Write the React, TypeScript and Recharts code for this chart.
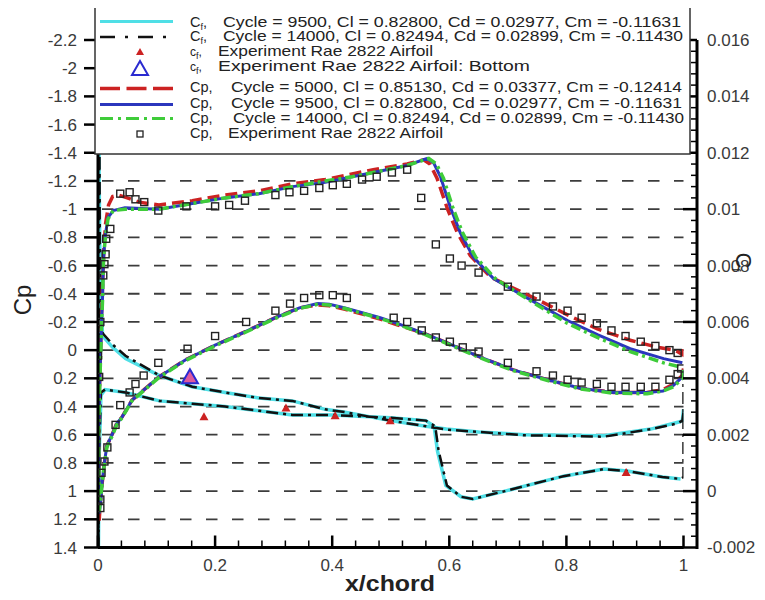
import React from "react";
import { ComposedChart, Line, Scatter, XAxis, YAxis, CartesianGrid } from "recharts";

type Pt = [number, number];

// ---------- axis ticks ----------
const cpTicks = [-2.2, -2, -1.8, -1.6, -1.4, -1.2, -1, -0.8, -0.6, -0.4, -0.2, 0, 0.2, 0.4, 0.6, 0.8, 1, 1.2, 1.4];
const xMajorTicks = [0, 0.2, 0.4, 0.6, 0.8, 1];
const cfMajorTicks = [-0.002, 0, 0.002, 0.004, 0.006, 0.008, 0.01, 0.012, 0.014, 0.016];
const xMinorStep = 0.04;
const cfMinorStep = 0.0004;

// ---------- legend labels ----------
const legendPrefix = ["C|f|,", "C|f|,", "c|f|,", "c|f|,", "Cp,", "Cp,", "Cp,", "Cp,"];
const legendText = [
  "Cycle = 9500, Cl = 0.82800, Cd = 0.02977, Cm = -0.11631",
  "Cycle = 14000, Cl = 0.82494, Cd = 0.02899, Cm = -0.11430",
  "Experiment Rae 2822 Airfoil",
  "Experiment Rae 2822 Airfoil: Bottom",
  "Cycle = 5000, Cl = 0.85130, Cd = 0.03377, Cm = -0.12414",
  "Cycle = 9500, Cl = 0.82800, Cd = 0.02977, Cm = -0.11631",
  "Cycle = 14000, Cl = 0.82494, Cd = 0.02899, Cm = -0.11430",
  "Experiment Rae 2822 Airfoil",
];

// ---------- Cf series (lower TE -> LE -> upper TE) ----------
const cfCycle9500: Pt[] = [
  [1.0, 0.0029], [0.998, 0.0025], [0.992, 0.00245], [0.944, 0.0022], [0.864, 0.00196], [0.729, 0.002],
  [0.65, 0.0021], [0.595, 0.0022], [0.56, 0.0023], [0.5, 0.0025], [0.422, 0.0028], [0.388, 0.0029],
  [0.332, 0.0032], [0.275, 0.0033], [0.217, 0.0035], [0.161, 0.0037], [0.105, 0.0041], [0.047, 0.0047],
  [0.025, 0.0051], [0.008, 0.0055], [0.004, 0.0068], [0.002, 0.011], [0.001, 0.015], [0.0, -0.004],
  [0.002, 0.0012], [0.005, 0.0034], [0.012, 0.0036], [0.047, 0.0035], [0.105, 0.0032], [0.161, 0.0031],
  [0.217, 0.003], [0.275, 0.00285], [0.332, 0.0027], [0.4, 0.0027], [0.5, 0.0026], [0.56, 0.0025],
  [0.574, 0.0023], [0.58, 0.0014], [0.594, 0.0002], [0.62, -0.0002], [0.64, -0.00028], [0.695, 0.0],
  [0.795, 0.00053], [0.864, 0.00078], [0.904, 0.00071], [0.964, 0.0005], [0.995, 0.00043],
];
const cfCycle14000: Pt[] = [
  [1.0, 0.0028], [0.998, 0.0025], [0.99, 0.0024], [0.944, 0.0022], [0.864, 0.00193], [0.729, 0.00198],
  [0.65, 0.0021], [0.595, 0.00218], [0.56, 0.0023], [0.5, 0.0025], [0.422, 0.0028], [0.388, 0.0029],
  [0.332, 0.0032], [0.275, 0.0033], [0.217, 0.0035], [0.161, 0.0037], [0.105, 0.0041], [0.047, 0.0048],
  [0.025, 0.0052], [0.008, 0.0056], [0.004, 0.007], [0.003, 0.0095], [0.0025, 0.0125], [0.0, -0.004],
  [0.002, 0.0014], [0.005, 0.0035], [0.012, 0.0036], [0.047, 0.0035], [0.105, 0.0032], [0.161, 0.0031],
  [0.217, 0.003], [0.275, 0.00285], [0.332, 0.0027], [0.4, 0.0027], [0.5, 0.0026], [0.56, 0.0025],
  [0.576, 0.0023], [0.582, 0.0014], [0.596, 0.0002], [0.62, -0.0002], [0.64, -0.00028], [0.695, 0.0],
  [0.795, 0.00053], [0.864, 0.00078], [0.904, 0.00071], [0.964, 0.0005], [0.995, 0.00043], [1.0, 0.0005],
  [1.0, 0.0042],
];
const cfExperiment: Pt[] = [[0.181, 0.00264], [0.321, 0.00295], [0.405, 0.00267], [0.499, 0.0025], [0.902, 0.00066]];
const cfExperimentBottom: Pt[] = [[0.157, 0.00404]];

// ---------- Cp series (lower TE -> LE -> upper TE) ----------
const cpCycle5000: Pt[] = [
  [1.0, 0.13], [0.998, 0.18], [0.983, 0.24], [0.965, 0.28], [0.938, 0.3], [0.88, 0.3], [0.824, 0.27],
  [0.768, 0.21], [0.709, 0.14], [0.653, 0.05], [0.597, -0.05], [0.556, -0.12], [0.511, -0.18], [0.482, -0.22],
  [0.422, -0.29], [0.395, -0.315], [0.375, -0.32], [0.344, -0.3], [0.303, -0.23], [0.251, -0.13], [0.2, -0.035],
  [0.149, 0.07], [0.104, 0.19], [0.058, 0.355], [0.041, 0.475], [0.032, 0.52], [0.024, 0.6], [0.015, 0.68],
  [0.01, 0.83], [0.007, 0.95], [0.004, 1.08], [0.002, 1.21],
  [0.001, 0.6], [0.003, 0.2], [0.006, -0.25], [0.008, -0.5], [0.01, -0.72], [0.013, -0.9], [0.018, -1.03],
  [0.025, -1.09], [0.035, -1.1], [0.05, -1.08], [0.07, -1.05], [0.104, -1.03], [0.161, -1.06], [0.217, -1.1],
  [0.275, -1.13], [0.332, -1.18], [0.388, -1.21], [0.434, -1.25], [0.47, -1.28], [0.528, -1.32], [0.556, -1.35],
  [0.567, -1.32], [0.579, -1.22], [0.597, -1.0], [0.614, -0.83], [0.636, -0.67], [0.67, -0.52], [0.699, -0.46],
  [0.75, -0.36], [0.802, -0.25], [0.853, -0.15], [0.909, -0.07], [0.956, -0.02], [0.985, 0.0], [0.998, 0.03],
  [1.0, -0.05],
];
const cpCycle9500: Pt[] = [
  [1.0, 0.14], [0.998, 0.19], [0.983, 0.25], [0.965, 0.29], [0.938, 0.3], [0.88, 0.3], [0.824, 0.27],
  [0.768, 0.21], [0.709, 0.14], [0.653, 0.05], [0.597, -0.05], [0.556, -0.12], [0.511, -0.19], [0.482, -0.23],
  [0.422, -0.3], [0.395, -0.325], [0.375, -0.33], [0.344, -0.3], [0.303, -0.23], [0.251, -0.13], [0.2, -0.035],
  [0.149, 0.07], [0.104, 0.19], [0.058, 0.355], [0.041, 0.475], [0.032, 0.52], [0.024, 0.6], [0.015, 0.68],
  [0.01, 0.83], [0.007, 0.94], [0.005, 1.06], [0.002, 1.16],
  [0.001, 0.6], [0.003, 0.23], [0.006, -0.19], [0.008, -0.4], [0.009, -0.62], [0.012, -0.8], [0.017, -0.94],
  [0.026, -0.99], [0.046, -1.01], [0.104, -1.0], [0.161, -1.04], [0.217, -1.08], [0.275, -1.11], [0.332, -1.16],
  [0.388, -1.19], [0.434, -1.23], [0.47, -1.26], [0.528, -1.31], [0.562, -1.36], [0.573, -1.33], [0.585, -1.23],
  [0.602, -1.01], [0.619, -0.83], [0.641, -0.66], [0.675, -0.51], [0.699, -0.45], [0.75, -0.33], [0.802, -0.21],
  [0.853, -0.11], [0.909, -0.01], [0.966, 0.06], [0.998, 0.09],
];
const cpCycle14000: Pt[] = [
  [1.0, 0.14], [0.998, 0.2], [0.983, 0.26], [0.965, 0.29], [0.938, 0.31], [0.88, 0.305], [0.824, 0.275],
  [0.768, 0.215], [0.709, 0.145], [0.653, 0.055], [0.597, -0.045], [0.556, -0.115], [0.511, -0.185],
  [0.482, -0.225], [0.422, -0.295], [0.395, -0.32], [0.375, -0.325], [0.344, -0.295], [0.303, -0.225],
  [0.251, -0.125], [0.2, -0.03], [0.149, 0.075], [0.104, 0.195], [0.058, 0.36], [0.041, 0.48], [0.032, 0.53],
  [0.024, 0.61], [0.015, 0.69], [0.01, 0.84], [0.007, 0.95], [0.004, 1.07], [0.002, 1.15],
  [0.001, 0.6], [0.003, 0.25], [0.006, -0.17], [0.008, -0.38], [0.009, -0.6], [0.012, -0.78], [0.017, -0.93],
  [0.026, -0.99], [0.046, -1.0], [0.104, -1.0], [0.161, -1.04], [0.217, -1.08], [0.275, -1.11], [0.332, -1.16],
  [0.388, -1.2], [0.434, -1.23], [0.47, -1.26], [0.528, -1.31], [0.565, -1.36], [0.578, -1.32], [0.59, -1.22],
  [0.606, -1.01], [0.623, -0.83], [0.645, -0.66], [0.678, -0.51], [0.7, -0.45], [0.75, -0.32], [0.802, -0.19],
  [0.853, -0.09], [0.909, 0.01], [0.966, 0.09], [0.995, 0.12],
];
const cpExperiment: Pt[] = [
  // upper surface
  [0.004, -0.2], [0.009, -0.53], [0.011, -0.61], [0.013, -0.68], [0.014, -0.79], [0.021, -0.86],
  [0.038, -1.11], [0.054, -1.12], [0.064, -1.07], [0.079, -1.05], [0.103, -0.99], [0.151, -1.02],
  [0.2, -1.02], [0.224, -1.03], [0.251, -1.06], [0.303, -1.1], [0.327, -1.12], [0.352, -1.13],
  [0.378, -1.15], [0.401, -1.17], [0.425, -1.18], [0.451, -1.21], [0.476, -1.23], [0.502, -1.26],
  [0.528, -1.28], [0.552, -1.08], [0.577, -0.75], [0.601, -0.65], [0.621, -0.6], [0.65, -0.55],
  [0.7, -0.45], [0.749, -0.38], [0.777, -0.31], [0.802, -0.28], [0.826, -0.23], [0.852, -0.19],
  [0.877, -0.14], [0.901, -0.1], [0.927, -0.06], [0.952, -0.03], [0.976, 0.0], [0.99, 0.02],
  // lower surface
  [0.0, 0.04], [0.002, 0.19], [0.004, 1.06], [0.004, 1.12], [0.006, 0.87], [0.011, 0.79], [0.016, 0.69],
  [0.03, 0.53], [0.038, 0.39], [0.054, 0.3], [0.064, 0.24], [0.078, 0.18], [0.103, 0.09], [0.153, -0.01],
  [0.2, -0.1], [0.253, -0.2], [0.303, -0.28], [0.328, -0.33], [0.352, -0.37], [0.378, -0.39], [0.401, -0.39],
  [0.425, -0.37], [0.505, -0.23], [0.528, -0.2], [0.553, -0.14], [0.577, -0.09], [0.601, -0.06],
  [0.623, -0.02], [0.65, 0.01], [0.7, 0.09], [0.749, 0.15], [0.777, 0.18], [0.802, 0.21], [0.826, 0.23],
  [0.852, 0.24], [0.877, 0.26], [0.901, 0.26], [0.927, 0.26], [0.952, 0.26], [0.976, 0.21], [0.99, 0.17],
  [0.996, 0.13],
];

// ---------- styling ----------
const FONT = "'Liberation Sans', Arial, Helvetica, sans-serif";
const C_CYAN = "#4fdfe6";
const C_BLACK = "#111111";
const C_RED = "#cc2222";
const C_BLUE = "#2b36bd";
const C_GREEN = "#3fcc3a";
const TICK_COLOR = "#3a3a3a";
const TICK_FONT = 17;
const CHART_W = 749;
const CHART_H = 584;
const MARGIN = { top: 32, right: 13.5, bottom: 14.5, left: 30 };
const X_AXIS_H = 30;
const PLOT_H = CHART_H - MARGIN.top - MARGIN.bottom - X_AXIS_H;
const RIGHT_AXIS_OFFSET = 13.5;

const toPts = (arr: Pt[]) => arr.map(([x, y]) => ({ x, y }));

const xTickValues: number[] = [];
for (let i = 0; i <= Math.round(1 / xMinorStep); i++) xTickValues.push(Math.round(i * xMinorStep * 1e6) / 1e6);
const cfTickValues: number[] = [];
for (let i = 0; i <= Math.round(0.018 / cfMinorStep); i++) cfTickValues.push(Math.round((-0.002 + i * cfMinorStep) * 1e7) / 1e7);

const XTick = (props: any) => {
  const { x, y, payload } = props;
  const major = xMajorTicks.find((m) => Math.abs(m - payload.value) < 1e-6);
  const isMajor = major !== undefined;
  return (
    <g>
      <line x1={x} x2={x} y1={y} y2={y - (isMajor ? 12 : 7)} stroke="#000" strokeWidth={isMajor ? 2.5 : 1.5} />
      {isMajor && (
        <text x={x} y={y + 23} textAnchor="middle" fontFamily={FONT} fontSize={TICK_FONT} fill={TICK_COLOR}>
          {String(major)}
        </text>
      )}
    </g>
  );
};

const CfTick = (props: any) => {
  const { x, y, payload, index } = props;
  const ax = x + RIGHT_AXIS_OFFSET;
  const major = cfMajorTicks.find((m) => Math.abs(m - payload.value) < 1e-7);
  const isMajor = major !== undefined;
  return (
    <g>
      {index === 0 && <line x1={ax} x2={ax} y1={y + 1.5} y2={y - PLOT_H} stroke="#000" strokeWidth={3} />}
      <line x1={ax} x2={ax - (isMajor ? 14 : 6)} y1={y} y2={y} stroke="#000" strokeWidth={isMajor ? 2.5 : 1.5} />
      {isMajor && (
        <text x={ax + 10} y={y} dy="0.35em" textAnchor="start" fontFamily={FONT} fontSize={TICK_FONT} fill={TICK_COLOR}>
          {String(major)}
        </text>
      )}
    </g>
  );
};

const SquareShape = (p: any) => (
  <rect x={p.cx - 3.5} y={p.cy - 3.5} width={7} height={7} fill="none" stroke="#222" strokeWidth={1.4} />
);
const RedTriangle = (p: any) => (
  <polygon points={`${p.cx},${p.cy - 4.5} ${p.cx + 4.5},${p.cy + 3.5} ${p.cx - 4.5},${p.cy + 3.5}`} fill={C_RED} />
);
const BlueTriangle = (p: any) => (
  <polygon
    points={`${p.cx},${p.cy - 8} ${p.cx + 8},${p.cy + 6} ${p.cx - 8},${p.cy + 6}`}
    fill="#de5a9e"
    stroke="#2a2ad0"
    strokeWidth={2}
  />
);

const legendRowTextY = [26.5, 41, 56, 70.5, 92, 107.5, 122.5, 138];
const legendRowSymY = [21.5, 37, 52, 69, 88.5, 104.5, 118.5, 134];
const legendTextX = [223, 223, 218, 218, 231, 231, 233, 228];
const legendTextLen = [458, 460, 215, 312, 451, 451, 451, 215];

const LegendSymbol = ({ i, y }: { i: number; y: number }) => {
  const x1 = 100;
  const x2 = 173;
  const xm = 140;
  switch (i) {
    case 0:
      return <line x1={x1} x2={x2} y1={y} y2={y} stroke={C_CYAN} strokeWidth={3} />;
    case 1:
      return <line x1={x1} x2={x2} y1={y} y2={y} stroke={C_BLACK} strokeWidth={2.5} strokeDasharray="15 10 3 10" />;
    case 2:
      return <polygon points={`${xm},${y - 4} ${xm + 4},${y + 3} ${xm - 4},${y + 3}`} fill={C_RED} />;
    case 3:
      return (
        <polygon points={`${xm},${y - 8} ${xm + 8},${y + 6} ${xm - 8},${y + 6}`} fill="none" stroke="#2a2ad0" strokeWidth={2} />
      );
    case 4:
      return <line x1={x1} x2={x2} y1={y} y2={y} stroke={C_RED} strokeWidth={3.5} strokeDasharray="20 6.5" />;
    case 5:
      return <line x1={x1} x2={x2} y1={y} y2={y} stroke={C_BLUE} strokeWidth={3} />;
    case 6:
      return <line x1={x1} x2={x2} y1={y} y2={y} stroke={C_GREEN} strokeWidth={3} strokeDasharray="13 5 3 5" />;
    default:
      return <rect x={xm - 3} y={y - 3} width={6} height={6} fill="none" stroke="#222" strokeWidth={1.3} />;
  }
};

const LegendPrefix = ({ s, y }: { s: string; y: number }) => {
  const parts = s.split("|");
  if (parts.length === 3) {
    return (
      <text x={190} y={y} fontFamily={FONT} fontSize={parts[0] === "c" ? 12 : 14.5} fill="#222">
        {parts[0]}
        <tspan fontSize={9} dy={3}>
          {parts[1]}
        </tspan>
        <tspan dy={-3}>{parts[2]}</tspan>
      </text>
    );
  }
  return (
    <text x={190} y={y} fontFamily={FONT} fontSize={14.5} fill="#222">
      {s}
    </text>
  );
};

const Overlay = () => (
  <svg width={765} height={600} style={{ position: "absolute", left: -8, top: -8, pointerEvents: "none" }}>
    <rect x={95} y={4} width={595} height={150} fill="#ffffff" stroke="#333" strokeWidth={1.5} />
    {legendText.map((t, i) => (
      <g key={i}>
        <LegendSymbol i={i} y={legendRowSymY[i]} />
        <LegendPrefix s={legendPrefix[i]} y={legendRowTextY[i]} />
        <text
          x={legendTextX[i]}
          y={legendRowTextY[i]}
          fontFamily={FONT}
          fontSize={14.5}
          fill="#222"
          textLength={legendTextLen[i]}
          lengthAdjust="spacingAndGlyphs"
        >
          {t}
        </text>
      </g>
    ))}
    <text x={23} y={300} transform="rotate(-90 23 300)" textAnchor="middle" dy="0.35em" fontFamily={FONT} fontSize={24} fill="#222">
      Cp
    </text>
    <text x={390} y={591} textAnchor="middle" fontFamily={FONT} fontWeight="bold" fontSize={22} fill="#222" textLength={90} lengthAdjust="spacingAndGlyphs">
      x/chord
    </text>
    <text x={744} y={262} transform="rotate(90 744 262)" textAnchor="middle" dy="0.35em" fontFamily={FONT} fontSize={22} fill="#222">
      C<tspan fontSize={12} dy={4}>f</tspan>
    </text>
  </svg>
);

export default function App() {
  return (
    <div style={{ position: "relative", width: CHART_W, height: CHART_H }}>
      <ComposedChart width={CHART_W} height={CHART_H} margin={MARGIN}>
        <CartesianGrid
          yAxisId="cp"
          vertical={false}
          horizontal={true}
          stroke="#3c3c3c"
          strokeWidth={1.8}
          strokeDasharray="11.5 14.5"
          strokeDashoffset={22}
        />
        <XAxis
          type="number"
          dataKey="x"
          domain={[0, 1]}
          allowDataOverflow
          ticks={xTickValues}
          interval={0}
          height={X_AXIS_H}
          tickSize={0}
          tickMargin={0}
          tickLine={false}
          axisLine={{ stroke: "#000", strokeWidth: 3 }}
          tick={<XTick />}
        />
        <YAxis
          yAxisId="cp"
          orientation="left"
          type="number"
          domain={[-2.2, 1.4]}
          reversed
          allowDataOverflow
          ticks={cpTicks}
          interval={0}
          width={60}
          tickSize={14}
          tickMargin={7}
          axisLine={{ stroke: "#000", strokeWidth: 3 }}
          tickLine={{ stroke: "#000", strokeWidth: 2.5 }}
          tick={{ fill: TICK_COLOR, fontSize: TICK_FONT, fontFamily: FONT }}
          tickFormatter={(v: number) => String(v)}
        />
        <YAxis
          yAxisId="cf"
          orientation="right"
          type="number"
          domain={[-0.002, 0.016]}
          allowDataOverflow
          ticks={cfTickValues}
          interval={0}
          width={60}
          tickSize={0}
          tickMargin={0}
          tickLine={false}
          axisLine={false}
          tick={<CfTick />}
        />
        <Line data={toPts(cfCycle9500)} dataKey="y" yAxisId="cf" type="linear" dot={false} stroke={C_CYAN} strokeWidth={3.5} isAnimationActive={false} />
        <Line data={toPts(cfCycle14000)} dataKey="y" yAxisId="cf" type="linear" dot={false} stroke={C_BLACK} strokeWidth={2.5} strokeDasharray="12 5 3 5" isAnimationActive={false} />
        <Line data={toPts(cpCycle5000)} dataKey="y" yAxisId="cp" type="linear" dot={false} stroke={C_RED} strokeWidth={3.5} strokeDasharray="12 6" isAnimationActive={false} />
        <Line data={toPts(cpCycle9500)} dataKey="y" yAxisId="cp" type="linear" dot={false} stroke={C_BLUE} strokeWidth={3} isAnimationActive={false} />
        <Line data={toPts(cpCycle14000)} dataKey="y" yAxisId="cp" type="linear" dot={false} stroke={C_GREEN} strokeWidth={3.5} strokeDasharray="10 4 3 4" isAnimationActive={false} />
        <Scatter data={toPts(cpExperiment)} dataKey="y" yAxisId="cp" shape={<SquareShape />} isAnimationActive={false} />
        <Scatter data={toPts(cfExperiment)} dataKey="y" yAxisId="cf" shape={<RedTriangle />} isAnimationActive={false} />
        <Scatter data={toPts(cfExperimentBottom)} dataKey="y" yAxisId="cf" shape={<BlueTriangle />} isAnimationActive={false} />
      </ComposedChart>
      <Overlay />
    </div>
  );
}
